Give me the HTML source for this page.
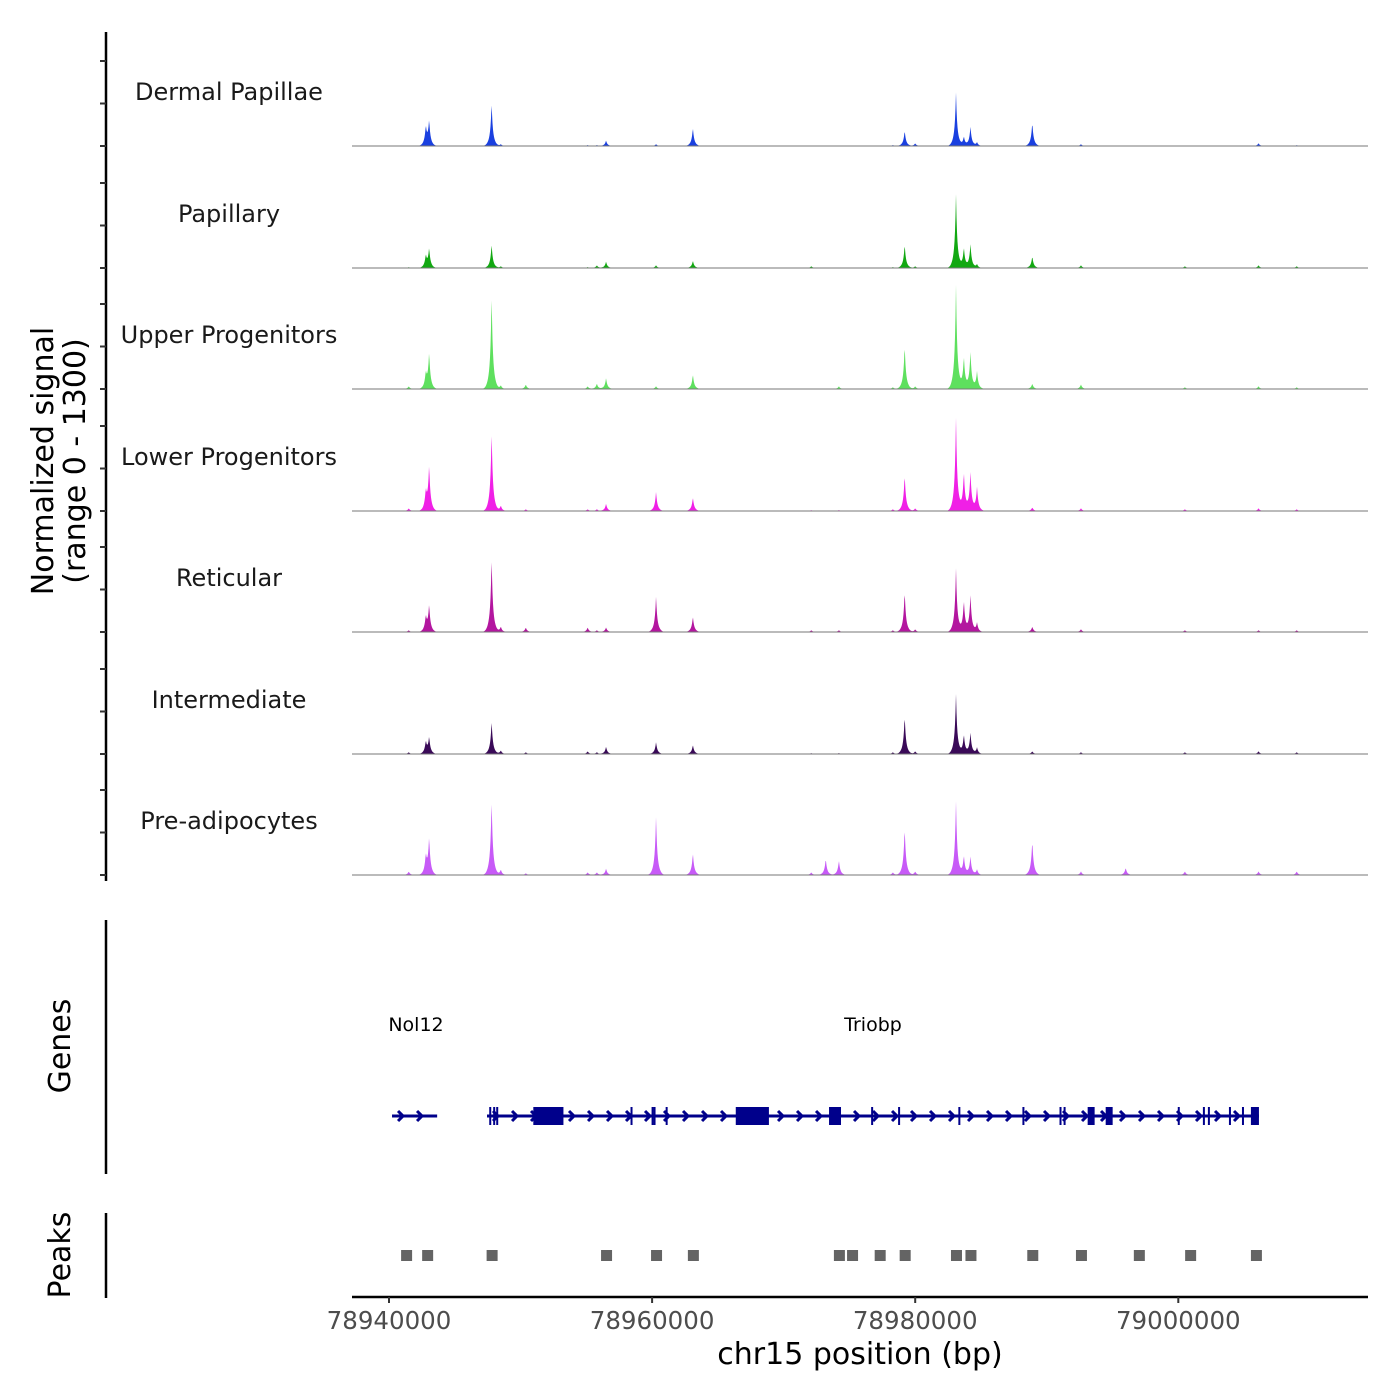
<!DOCTYPE html>
<html><head><meta charset="utf-8"><style>
html,body{margin:0;padding:0;background:#fff;width:1400px;height:1400px;overflow:hidden}
svg text{font-family:"DejaVu Sans","Liberation Sans",sans-serif}
</style></head><body>
<svg id="chart" width="1400" height="1400" viewBox="0 0 1400 1400" xmlns="http://www.w3.org/2000/svg">
<g id="tracks"></g>
<g id="genes"></g>
<g id="peaks"></g>
<g id="axes"></g>
<text transform="translate(53,461) rotate(-90)" text-anchor="middle" font-size="30" fill="#000">Normalized signal</text>
<text transform="translate(85,461) rotate(-90)" text-anchor="middle" font-size="30" fill="#000">(range 0 - 1300)</text>
<text transform="translate(70,1046) rotate(-90)" text-anchor="middle" font-size="30" fill="#000">Genes</text>
<text transform="translate(70,1255) rotate(-90)" text-anchor="middle" font-size="30" fill="#000">Peaks</text>
<text x="860" y="1364" text-anchor="middle" font-size="30" fill="#000">chr15 position (bp)</text>
<text x="416" y="1031" text-anchor="middle" font-size="19" fill="#000">Nol12</text>
<text x="873" y="1031" text-anchor="middle" font-size="19" fill="#000">Triobp</text>
</svg>
<script>
const NS="http://www.w3.org/2000/svg";
const trackNames=["Dermal Papillae","Papillary","Upper Progenitors","Lower Progenitors","Reticular","Intermediate","Pre-adipocytes"];
const trackColors=["#1a40e0","#12a812","#5ee05e","#f020e6","#b3169f","#3a0a58","#c75af7"];
const peakPos=[78941500,78942800,78943050,78947800,78948500,78950400,78955100,78955800,78956500,78960300,78963100,78972100,78973200,78974200,78978300,78979200,78980000,78983100,78983700,78984200,78984700,78988900,78992600,78996000,79000500,79006100,79009000];
const dermal=      [5,200,270,470,20,0,10,10,60,20,200,0,0,0,10,170,30,580,100,210,40,260,20,0,0,30,10];
const papillary=   [10,130,210,260,20,0,10,30,70,30,80,20,0,0,10,260,20,800,220,260,40,130,30,0,20,30,20];
const upperProg=   [30,160,390,1030,40,50,30,60,120,30,160,0,0,30,20,480,30,1130,350,400,190,60,50,0,20,30,20];
const lowerProg=   [30,200,490,870,60,20,20,20,80,210,150,10,0,10,20,400,30,1010,420,420,260,40,30,0,20,30,20];
const reticular=   [20,160,290,810,60,50,50,20,50,390,170,20,0,20,20,450,30,690,340,400,100,60,30,0,20,20,20];
const intermediate=[20,130,180,360,40,20,30,20,80,130,100,10,0,10,20,420,30,650,210,230,70,30,20,0,20,30,20];
const preAdipo=    [40,200,400,820,60,20,30,30,70,640,240,30,180,160,30,520,40,800,210,200,60,380,40,80,40,40,40];
const trackValues=[dermal,papillary,upperProg,lowerProg,reticular,intermediate,preAdipo];
const xTicks=[78940000,78960000,78980000,79000000];
const exonStart=[78947620,78947920,78948150,78950970,78958360,78959960,78960110,78961030,78966360,78973450,78976650,78978700,78983280,78988150,78990970,78991280,78993110,78994480,78999960,79001870,79002250,79003850,79004840,79005520];
const exonEnd=  [78947720,78948020,78948250,78953260,78958440,78960040,78960190,78961110,78968880,78974360,78976730,78978780,78983360,78988230,78991050,78991360,78993640,78995010,79000040,79001950,79002330,79003930,79004920,79006130];
const geneStart=[78940230,78947450];
const geneEnd=[78943660,79006130];
const peakRegions=[78941300,78942900,78947800,78956500,78960300,78963100,78974200,78975200,78977300,78979200,78983100,78984200,78988900,78992600,78997000,79000900,79005900];

const X0=352,X1=1368;
function xs(bp){return 389+(bp-78940000)*(263.1/20000);}
const baselines=[146,268,389,511,632,754,875];
const trackH=121.5, maxV=1300;
function ys(v,b){return b-v/maxV*trackH;}
function mk(tag,attrs,parent){const e=document.createElementNS(NS,tag);for(const k in attrs)e.setAttribute(k,attrs[k]);parent.appendChild(e);return e;}

const tracksG=document.getElementById('tracks');
trackValues.forEach((vals,t)=>{
  const b=baselines[t];
  const g=mk('g',{},tracksG);
  
  
  let d='M'+X0+','+b;
  for(let px=X0;px<=X1;px+=0.5){
    let v=0;
    peakPos.forEach((p,i)=>{
      const dx=Math.abs(px-xs(p));
      const h=vals[i];
      v+=h*(0.85*Math.exp(-dx/1.1)+0.15*Math.exp(-(dx*dx)/20));
    });
    v=Math.min(v,maxV);
    d+=' L'+px+','+ys(v,b).toFixed(2);
  }
  d+=' L'+X1+','+b+' Z';
  const area=mk('path',{d:d,fill:trackColors[t],stroke:'none'},g);
  
  
  const bl=mk('line',{x1:X0,x2:X1,y1:b,y2:b,stroke:'#777',"stroke-width":1},g);
  
  
  const lab=mk('text',{x:229,y:b-46,"text-anchor":"middle","font-size":"24",fill:"#1a1a1a"},g);
  lab.textContent=trackNames[t];
  
  
});

// genes
const gG=document.getElementById('genes');
const gy=1116, col='#00008b';
geneStart.forEach((s,i)=>{
  const x1=xs(s),x2=xs(geneEnd[i]);
  const ln=mk('line',{x1:x1,x2:x2,y1:gy,y2:gy,stroke:col,"stroke-width":3},gG);
  
  
  for(let ax=x1+10;ax<x2-2;ax+=19){
    const a=mk('path',{d:`M${ax-4},${gy-5} L${ax+1},${gy} L${ax-4},${gy+5}`,stroke:col,"stroke-width":3,fill:"none"},gG);
    
    
  }
});
exonStart.forEach((s,i)=>{
  const x1=xs(s),w=Math.max(2,xs(exonEnd[i])-x1);
  const r=mk('rect',{x:x1,y:gy-9,width:w,height:18,fill:col},gG);
  
  
});

// peaks
const pG=document.getElementById('peaks');
peakRegions.forEach(p=>{
  const r=mk('rect',{x:xs(p)-5,y:1250,width:11,height:11,fill:'#646464'},pG);
  
  
});

// axes
const aG=document.getElementById('axes');
let l=mk('line',{x1:106,x2:106,y1:32,y2:881,stroke:'#000',"stroke-width":2.5},aG);


baselines.forEach(b=>{
  [0,42.5,85].forEach(o=>{
    const t=mk('line',{x1:100,x2:106,y1:b-o,y2:b-o,stroke:'#333',"stroke-width":2},aG);
    
    
  });
});
l=mk('line',{x1:106,x2:106,y1:920,y2:1174,stroke:'#000',"stroke-width":2.5},aG);


l=mk('line',{x1:106,x2:106,y1:1213,y2:1298,stroke:'#000',"stroke-width":2.5},aG);


l=mk('line',{x1:X0,x2:X1,y1:1297,y2:1297,stroke:'#000',"stroke-width":2.5},aG);


xTicks.forEach(v=>{
  const x=xs(v);
  const t=mk('line',{x1:x,x2:x,y1:1297,y2:1303,stroke:'#333',"stroke-width":2},aG);
  
  
  const tx=mk('text',{x:x,y:1329,"text-anchor":"middle","font-size":"24.5",fill:"#4d4d4d"},aG);
  tx.textContent=String(v);
  
  
});
</script>
</body></html>
